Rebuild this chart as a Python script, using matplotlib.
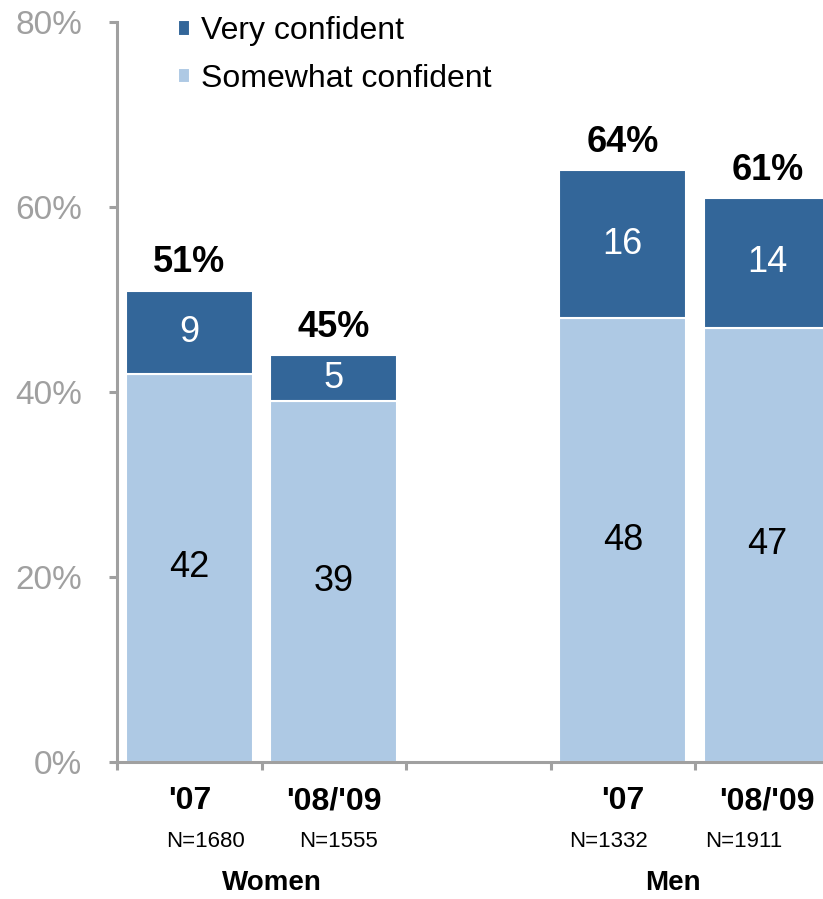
import numpy as np
import matplotlib
matplotlib.use('Agg')
import matplotlib.pyplot as plt

plt.rcParams['font.family'] = ['Liberation Sans', 'DejaVu Sans']

# confidence by gender and survey year
bar_pos = [0, 1, 3, 4]
years = ["'07", "'08/'09", "'07", "'08/'09"]
sample_n = ['N=1680', 'N=1555', 'N=1332', 'N=1911']
somewhat = [42, 39, 48, 47]
very = [9, 5, 16, 14]
totals = [51, 45, 64, 61]
groups = ['Women', 'Men']

dark = '#336699'
light = '#AEC9E4'
axis_grey = '#A0A0A0'

fig = plt.figure(figsize=(8.23, 8.99), dpi=100)
ax = fig.add_axes([0.1422, 0.1524, 0.8779, 0.8226])

b1 = ax.bar(bar_pos, somewhat, width=0.88, color=light, edgecolor='white',
            linewidth=1.5, label='Somewhat confident')
b2 = ax.bar(bar_pos, very, width=0.88, bottom=somewhat, color=dark,
            edgecolor='white', linewidth=1.5, label='Very confident')

for x, s, v, t in zip(bar_pos, somewhat, very, totals):
    ax.text(x, s / 2, str(s), ha='center', va='center', fontsize=26, color='black')
    ax.text(x, s + v / 2, str(v), ha='center', va='center', fontsize=26, color='white')
    ax.annotate(f'{t}%', (x, s + v), xytext=(0, 20), textcoords='offset points',
                ha='center', va='center', fontsize=26, fontweight='bold')

ax.set_xlim(-0.5, 4.5)
ax.set_ylim(0, 80)
ax.set_yticks(np.arange(0, 81, 20))
ax.set_yticklabels([f'{v}%' for v in range(0, 81, 20)])
ax.set_xticks([-0.5, 0.5, 1.5, 2.5, 3.5, 4.5])
ax.set_xticklabels([])

for side in ['top', 'right']:
    ax.spines[side].set_visible(False)
for side in ['left', 'bottom']:
    ax.spines[side].set_color(axis_grey)
    ax.spines[side].set_linewidth(2.2)
ax.tick_params(axis='both', direction='out', length=6, width=2.2, color=axis_grey)
ax.tick_params(axis='y', labelsize=24, labelcolor=axis_grey, pad=19)

# category labels under the axis
tr = ax.get_xaxis_transform()
n_shift = [0.11, 0.03, -0.1, -0.16]
for x, yr, n, dx in zip(bar_pos, years, sample_n, n_shift):
    ax.text(x, -0.053, yr, transform=tr, ha='center', va='center',
            fontsize=23, fontweight='bold')
    ax.text(x + dx, -0.108, n, transform=tr, ha='center', va='center', fontsize=16)
for gx, g in zip([0.57, 3.35], groups):
    ax.text(gx, -0.164, g, transform=tr, ha='center', va='center',
            fontsize=20, fontweight='bold')

ax.legend([b2, b1], ['Very confident', 'Somewhat confident'], loc='upper left',
          bbox_to_anchor=(0.2163, 0.982), bbox_transform=fig.transFigure,
          frameon=False, fontsize=23, handlelength=0.375, handleheight=0.375,
          handletextpad=0.35, labelspacing=0.56, borderpad=0, borderaxespad=0)

fig.savefig('out.png', dpi=100)
